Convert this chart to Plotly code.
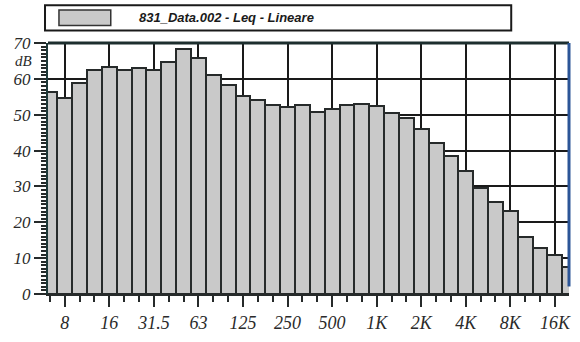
import plotly.graph_objects as go

# 1/3-octave bands (Hz)
bands = ["6.3", "8", "10", "12.5", "16", "20", "25", "31.5", "40", "50", "63", "80",
         "100", "125", "160", "200", "250", "315", "400", "500", "630", "800",
         "1K", "1.25K", "1.6K", "2K", "2.5K", "3.15K", "4K", "5K", "6.3K", "8K",
         "10K", "12.5K", "16K", "20K"]
# Leq levels (dB)
levels = [56.4, 54.6, 58.9, 62.5, 63.2, 62.5, 63.0, 62.5, 64.7, 68.3, 65.9, 61.1,
          58.2, 55.3, 54.1, 52.8, 52.1, 52.6, 50.8, 51.5, 52.6, 53.1, 52.3, 50.5,
          49.0, 45.9, 42.0, 38.4, 34.4, 29.6, 25.6, 23.1, 15.9, 12.7, 10.9, 7.6]
x_tick_labels = ["8", "16", "31.5", "63", "125", "250", "500", "1K", "2K", "4K", "8K", "16K"]
y_tick_values = [0, 10, 20, 30, 40, 50, 60, 70]
y_tick_labels = ["0", "10", "20", "30", "40", "50", "60", "70"]
series_name = "831_Data.002 - Leq - Lineare"

W, H = 580, 342
L, R, T, B = 48, 9, 43, 40
pw, ph = W - L - R, H - T - B


def px(x):
    return (x - L) / pw


def py(y):
    return (H - B - y) / ph


idx = list(range(len(bands)))
tickvals = [bands.index(t) for t in x_tick_labels]

BAR_FILL = "#c9c9c9"
DARK = "#262a2a"
serif = "Liberation Serif"

fig = go.Figure()
fig.add_trace(go.Bar(
    x=idx, y=levels, width=1.0,
    marker=dict(color=BAR_FILL, line=dict(color=DARK, width=2)),
    showlegend=False,
))

fig.update_layout(
    width=W, height=H,
    margin=dict(l=L, r=R, t=T, b=B),
    paper_bgcolor="white", plot_bgcolor="white",
    bargap=0,
    xaxis=dict(
        range=[-0.13, 34.95],
        tickmode="array", tickvals=tickvals,
        ticktext=["<i>" + t + "</i>" for t in x_tick_labels],
        ticks="outside", ticklen=11, tickwidth=2, tickcolor=DARK,
        tickfont=dict(family=serif, size=18, color="#2a2a2a"),
        showgrid=True, gridcolor="#1a1a1a", gridwidth=2,
        showline=True, linecolor=DARK, linewidth=2,
        minor=dict(tickvals=idx, ticks="outside", ticklen=6, tickwidth=2,
                   tickcolor=DARK, showgrid=False),
        zeroline=False, fixedrange=True,
    ),
    yaxis=dict(
        range=[0, 70],
        tickmode="array", tickvals=y_tick_values,
        ticktext=["<i>" + t + "</i>" for t in y_tick_labels],
        ticks="outside", ticklen=12, tickwidth=2, tickcolor=DARK,
        tickfont=dict(family=serif, size=17, color="#2a2a2a"),
        showgrid=True, gridcolor="#1a1a1a", gridwidth=2,
        showline=True, linecolor="#1d3838", linewidth=2,
        minor=dict(dtick=1, ticks="outside", ticklen=5, tickwidth=1.5,
                   tickcolor=DARK, showgrid=False),
        zeroline=False, fixedrange=True,
    ),
)

shapes = [
    # top frame
    dict(type="line", xref="paper", yref="paper", x0=0, x1=1, y0=1, y1=1,
         line=dict(color="#1d2e2e", width=3)),
    # right frame (bluish)
    dict(type="line", xref="paper", yref="paper", x0=1, x1=1, y0=0.03, y1=1,
         line=dict(color="#2b5597", width=3)),
    # legend box
    dict(type="rect", xref="paper", yref="paper",
         x0=px(45), x1=px(513), y0=py(30), y1=py(4),
         line=dict(color="#1a1a1a", width=2), fillcolor="white"),
    # legend swatch
    dict(type="rect", xref="paper", yref="paper",
         x0=px(59), x1=px(111), y0=py(25), y1=py(9),
         line=dict(color="#333333", width=1.5), fillcolor=BAR_FILL),
]
fig.update_layout(shapes=shapes)

fig.add_annotation(
    xref="paper", yref="paper", x=px(137), y=py(17),
    text="<b><i>" + series_name + "</i></b>", showarrow=False,
    xanchor="left", yanchor="middle",
    font=dict(family="Liberation Sans", size=13, color="#1a1a1a"),
)
fig.add_annotation(
    xref="paper", yref="paper", x=px(23), y=py(61.5),
    text="<i>dB</i>", showarrow=False, xanchor="center", yanchor="middle",
    font=dict(family=serif, size=15, color="#2a2a2a"),
)

fig.write_html("out.html")
